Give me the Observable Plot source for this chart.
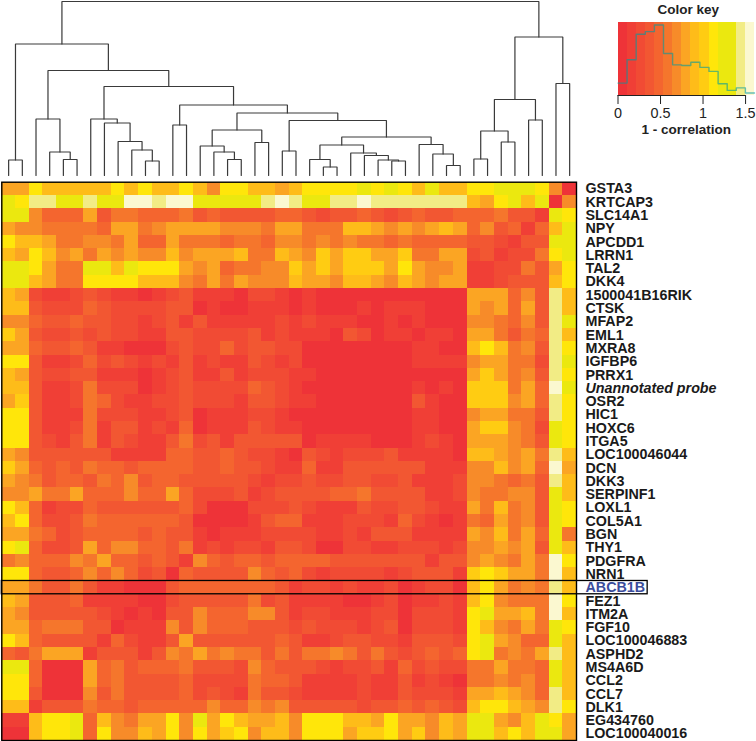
<!DOCTYPE html>
<html>
<head>
<meta charset="utf-8">
<script src="https://cdn.jsdelivr.net/npm/d3@7"></script>
<script src="https://cdn.jsdelivr.net/npm/@observablehq/plot@0.6"></script>
<style>
html,body{margin:0;padding:0;background:#fff;overflow:hidden}
#chart{position:relative;width:756px;height:741px;font-family:"Liberation Sans",Arial,sans-serif}
#chart svg{position:absolute;background:transparent;max-width:none}
</style>
</head>
<body>
<div id="chart"></div>
<script>
const genes = ["GSTA3","KRTCAP3","SLC14A1","NPY","APCDD1","LRRN1","TAL2","DKK4","1500041B16RIK","CTSK","MFAP2","EML1","MXRA8","IGFBP6","PRRX1","Unannotated probe","OSR2","HIC1","HOXC6","ITGA5","LOC100046044","DCN","DKK3","SERPINF1","LOXL1","COL5A1","BGN","THY1","PDGFRA","NRN1","ABCB1B","FEZ1","ITM2A","FGF10","LOC100046883","ASPHD2","MS4A6D","CCL2","CCL7","DLK1","EG434760","LOC100040016"];

// Colour-key band index of every cell (row by row, top to bottom)
const levelRows = [
[7,7,10,8,8,8,8,8,10,8,10,8,8,10,8,6,10,10,8,8,7,8,10,10,10,10,11,10,11,10,8,11,8,8,10,10,11,11,11,10,6,0],
[11,10,13,13,11,11,13,11,11,14,14,13,14,14,11,11,11,11,11,13,14,13,11,11,13,13,14,13,13,13,13,13,13,13,8,7,10,11,8,11,0,6],
[11,11,6,4,4,4,7,3,5,5,4,4,4,5,3,4,3,3,3,3,4,4,3,2,3,3,4,3,2,3,4,3,3,4,4,4,5,3,3,1,11,10],
[7,6,6,5,5,5,5,4,7,7,5,6,7,7,7,7,6,6,6,5,7,7,5,5,5,8,8,7,6,7,6,7,8,7,4,6,3,4,1,4,8,11],
[10,8,8,7,5,5,6,6,5,7,4,4,7,5,5,5,4,5,5,4,6,6,5,6,5,6,5,5,4,5,4,4,4,4,3,3,2,1,3,3,11,11],
[8,7,10,8,6,7,5,7,6,7,6,6,8,6,7,7,7,8,5,5,8,7,6,9,7,9,9,7,7,9,5,5,7,7,2,3,1,2,2,5,10,11],
[11,11,10,7,5,5,11,11,8,11,10,10,10,7,6,7,4,5,5,6,6,9,7,9,7,9,9,9,7,10,7,6,6,7,1,1,2,2,5,3,7,10],
[11,11,8,7,5,5,10,10,10,10,8,8,8,6,5,7,5,7,6,6,6,8,7,7,6,8,8,7,6,8,7,6,7,7,1,1,2,3,3,3,8,10],
[8,7,2,1,1,2,3,2,1,1,0,1,2,3,1,1,1,0,2,2,1,0,1,0,0,0,0,0,0,0,0,0,0,0,7,7,7,4,6,3,13,8],
[8,8,3,2,2,2,4,3,2,2,2,2,3,3,0,1,0,0,1,1,1,0,1,0,0,0,1,0,1,1,1,0,0,0,7,6,7,4,7,3,13,8],
[6,6,4,3,3,4,3,3,2,2,1,2,3,1,3,1,1,1,1,1,2,1,2,1,1,1,0,0,1,0,1,0,0,0,6,6,5,4,6,3,13,11],
[9,7,3,2,2,3,2,3,2,2,1,1,3,3,2,2,2,2,3,1,2,1,1,1,0,3,2,0,1,1,0,1,1,0,7,7,5,3,5,4,13,8],
[7,7,4,3,3,4,3,1,1,0,0,0,2,3,2,2,4,2,3,3,2,2,0,0,0,0,0,0,0,0,1,1,0,0,8,10,8,5,6,3,13,10],
[10,10,3,1,1,2,4,2,3,2,1,2,1,3,1,2,1,1,3,2,1,2,0,0,0,0,0,0,0,0,1,1,1,1,6,7,7,5,5,2,13,11],
[8,7,3,2,2,3,3,1,1,1,0,1,2,3,1,1,3,1,2,2,2,1,1,0,0,0,0,0,0,0,0,0,0,0,7,9,7,5,6,3,13,10],
[8,8,3,1,1,2,5,2,2,2,0,1,2,3,2,2,2,2,4,3,2,1,0,0,0,0,0,0,0,0,1,0,1,0,9,9,9,5,7,4,14,11],
[7,9,3,1,1,2,5,4,2,1,1,2,2,3,2,2,2,1,3,3,2,1,1,0,0,0,0,0,0,0,3,1,0,0,9,9,9,6,7,4,13,10],
[10,10,3,1,1,1,5,2,2,2,1,1,2,3,0,1,1,1,2,2,1,0,0,0,0,0,0,0,0,0,1,1,0,0,6,7,7,5,5,3,13,10],
[10,10,3,1,1,2,5,1,3,3,1,2,1,4,0,1,1,1,3,2,1,1,0,0,0,0,0,0,0,0,1,1,0,0,7,9,9,6,5,2,11,10],
[10,10,3,2,1,3,5,1,3,2,1,1,3,5,2,3,1,3,3,3,3,3,0,1,1,1,1,0,0,0,1,2,1,0,7,7,7,6,5,3,11,10],
[7,6,3,3,3,3,3,3,1,1,1,1,4,4,3,3,4,3,2,2,1,0,3,2,1,2,2,2,3,1,1,1,1,0,8,8,7,6,7,5,13,8],
[9,7,4,3,4,3,5,4,4,3,4,4,4,4,3,3,4,3,3,2,1,1,4,1,1,3,3,3,3,3,3,1,1,1,6,6,8,6,7,4,14,7],
[7,6,5,3,4,4,3,5,4,6,3,4,4,3,3,3,3,3,2,1,2,2,3,2,2,3,3,2,2,3,1,1,1,2,6,6,5,4,5,3,13,8],
[6,6,7,5,5,7,4,4,4,6,4,4,7,4,2,2,2,3,1,2,3,3,3,3,4,4,5,3,3,3,3,1,1,2,6,5,5,6,6,3,11,8],
[10,8,4,1,2,2,4,3,3,3,3,3,3,4,2,0,0,0,2,2,2,3,2,1,1,1,3,2,2,3,3,2,1,1,7,5,8,5,6,3,11,10],
[8,10,4,2,2,3,5,4,4,4,4,4,4,3,0,0,0,0,1,3,4,4,1,1,1,2,2,2,1,4,2,1,0,1,5,4,7,5,6,3,11,10],
[7,7,5,4,2,3,4,4,4,4,3,4,3,3,1,0,1,1,1,2,2,2,2,1,1,2,1,3,3,3,1,1,1,1,7,6,8,5,7,4,11,5],
[10,11,4,2,2,3,7,4,6,6,4,4,3,5,1,2,1,2,2,1,3,3,2,0,0,2,2,1,1,2,2,2,1,2,6,6,7,6,7,3,11,8],
[5,6,4,4,4,6,5,7,4,4,3,4,3,1,6,4,3,4,4,3,4,4,4,4,3,3,3,3,3,3,3,1,3,3,6,7,6,5,7,5,14,10],
[10,10,4,3,3,4,6,4,6,4,2,3,0,4,3,3,3,3,6,4,3,4,2,1,2,2,2,2,1,2,3,3,3,1,9,10,9,7,7,5,14,8],
[7,7,5,3,3,5,3,1,1,0,0,0,3,4,4,4,4,4,4,4,3,1,2,2,1,2,1,1,2,0,1,2,2,0,8,10,7,5,6,5,13,8],
[8,7,3,3,3,4,1,1,1,1,0,0,2,3,3,3,3,3,5,2,3,1,1,1,1,0,0,1,2,0,1,1,2,1,8,10,6,5,5,5,14,10],
[7,6,3,3,3,3,3,2,1,0,1,0,3,3,6,4,4,4,6,6,3,1,2,2,1,1,1,2,2,0,2,2,2,1,10,11,7,7,8,5,14,8],
[7,7,4,5,5,5,3,3,0,1,1,1,6,3,6,4,4,4,3,3,3,2,3,2,2,2,1,2,3,0,2,2,2,1,10,8,6,5,7,5,11,10],
[10,8,4,3,3,3,3,1,4,2,1,1,3,7,3,3,3,3,3,3,4,3,1,1,2,3,3,2,2,1,3,3,3,2,10,11,7,6,4,4,11,8],
[4,3,5,7,7,7,1,3,3,3,1,3,6,5,7,5,6,5,5,3,5,3,5,5,6,5,3,5,3,2,3,4,3,4,10,11,5,6,5,7,13,8],
[11,11,4,0,0,0,7,4,5,3,4,4,4,5,3,3,3,2,6,4,3,3,3,2,1,2,2,3,1,4,2,3,2,2,5,5,7,5,5,4,11,8],
[10,10,4,0,0,0,7,4,5,3,3,3,3,4,2,2,2,2,5,4,4,3,1,1,1,1,2,1,1,3,1,2,1,0,5,5,6,5,6,4,11,8],
[10,10,3,0,0,0,6,3,5,3,3,3,3,4,2,3,2,1,5,3,3,2,1,1,1,1,2,1,1,3,2,2,2,1,7,7,8,7,6,4,13,8],
[8,8,1,3,3,3,5,4,4,3,4,4,4,4,4,6,4,4,6,5,6,3,3,3,3,3,2,3,3,4,3,4,3,2,8,10,10,8,7,6,13,10],
[1,1,8,10,10,11,4,8,6,5,7,7,10,6,11,7,10,8,7,7,8,6,10,10,10,8,8,7,10,7,7,6,8,7,11,11,7,6,8,11,10,7],
[0,0,8,10,10,11,4,10,6,6,8,7,10,6,10,7,9,10,6,8,8,6,10,10,10,7,9,9,10,7,9,6,8,7,11,11,8,10,8,11,11,7]
];

// Colour key: band colours and band width in "1 - correlation" units
const bandColors = ["#ee3338","#f03f36","#f14b34","#f25732","#f4652f","#f5762c","#f78b29","#fba523","#febc19","#ffcc12","#ffe60a","#ebe80f","#ebe80f","#f2ec85","#fbf8d0"];
const bandWidth = 0.107;
const histogramCounts = [34,98,168,175,193,115,84,82,91,77,66,32,14,21,7];
const keyTicks = [0,0.5,1,1.5];

// Column dendrogram: [left, right, height]; a number below 42 is a leaf, "mN" an earlier merge
const merges = [
[0,1,.31],[4,5,.32],[3,"m2",.47],[2,"m3",1.13],[10,11,.29],[9,"m5",.51],[8,"m6",.68],[7,"m7",1.05],[6,"m8",1.13],
[12,13,1.01],[16,17,.32],[15,"m11",.47],[14,"m12",.59],[18,19,.66],["m13","m14",.91],[20,21,.49],[23,24,.17],[22,"m17",.32],
[28,29,.29],[27,"m19",.31],[26,"m20",.40],[25,"m21",.45],["m18","m22",.61],[32,33,.20],[31,"m24",.43],[30,"m25",.62],
["m23","m26",.77],["m16","m27",1.10],["m15","m28",1.25],["m10","m29",1.41],["m9","m30",1.78],["m4","m31",2.10],["m1","m32",2.63],
[34,35,.33],[36,37,.67],["m34","m35",.89],[38,39,1.11],["m36","m37",1.52],[40,41,1.84],["m38","m39",2.77],["m33","m40",3.48]
];

const FONT = '"Liberation Sans",Arial,sans-serif';
const chart = document.getElementById("chart");
function place(svg, left, top) { svg.style.left = left + "px"; svg.style.top = top + "px"; chart.appendChild(svg); }

const levelColor = {type:"ordinal", domain:bandColors.map((_, i) => i), range:bandColors};
const gridLeft = 1.3, gridRight = 180;

// Dendrogram
const nodes = new Map();
const branchPoints = [];
merges.forEach(([a, b, h], i) => {
  const pos = k => typeof k === "number" ? {x:k + 0.5, h:0} : nodes.get(k);
  const A = pos(a), B = pos(b), id = "m" + (i + 1);
  nodes.set(id, {x:(A.x + B.x) / 2, h});
  branchPoints.push({id, x:A.x, y:A.h}, {id, x:A.x, y:h}, {id, x:B.x, y:h}, {id, x:B.x, y:B.h});
});
place(Plot.plot({
  width:756, height:176, marginLeft:gridLeft, marginRight:gridRight, marginTop:1, marginBottom:1,
  x:{domain:[0,42], axis:null}, y:{domain:[0,3.48], axis:null},
  marks:[Plot.line(branchPoints,{x:"x", y:"y", z:"id", stroke:"#3a3a3a", strokeWidth:1.2, strokeLinejoin:"miter", curve:"linear"})]
}), 0, 0);

// Heatmap
const cells = levelRows.flatMap((row, r) => row.map((level, c) => ({gene:genes[r], c, level})));
const plainGenes = genes.filter(g => g !== "ABCB1B" && g !== "Unannotated probe");
const labelStyle = {anchor:"right", label:null, tickSize:0, tickPadding:9, fontSize:14.3, fontWeight:"bold", fontFamily:FONT};
place(Plot.plot({
  width:756, height:561, marginLeft:gridLeft, marginRight:gridRight, marginTop:1.7, marginBottom:1,
  style:{overflow:"visible", fontFamily:FONT},
  x:{domain:[0,42], axis:null},
  y:{type:"band", domain:genes, padding:0, round:false},
  color:levelColor,
  marks:[
    Plot.barX(cells,{x1:"c", x2:d => d.c + 1, y:"gene", fill:"level", shapeRendering:"crispEdges"}),
    Plot.frame({stroke:"#000", strokeWidth:1.4}),
    Plot.barX(["ABCB1B"],{x1:0, x2:47.2, y:d => d, fill:"none", stroke:"#000", strokeWidth:1.3, clip:false}),
    Plot.axisY(plainGenes,{...labelStyle, fill:"#1a1a1a"}),
    Plot.axisY(["Unannotated probe"],{...labelStyle, fill:"#1a1a1a", fontStyle:"italic"}),
    Plot.axisY(["ABCB1B"],{...labelStyle, fill:"#3b4c9b"})
  ]
}), 0, 180);

// Colour key
const keyBands = bandColors.map((_, i) => ({i, x1:i * bandWidth, x2:(i + 1) * bandWidth}));
const histLine = histogramCounts.concat(histogramCounts[histogramCounts.length - 1]).map((n, i) => ({x:i * bandWidth, n}));
place(Plot.plot({
  width:150, height:140, marginLeft:11.5, marginRight:2, marginTop:22, marginBottom:45,
  style:{overflow:"visible", fontFamily:FONT, color:"#222"},
  x:{domain:[0, 15 * bandWidth], label:null},
  y:{domain:[0,200], axis:null},
  color:levelColor,
  marks:[
    Plot.rectY(keyBands,{x1:"x1", x2:"x2", y1:0, y2:200, fill:"i", shapeRendering:"crispEdges"}),
    Plot.line(histLine,{x:"x", y:"n", curve:"step-after", stroke:"#009aa0", strokeOpacity:0.6, strokeWidth:1.4}),
    Plot.ruleY([0],{x1:0, x2:1.5, stroke:"#222"}),
    Plot.axisX({ticks:keyTicks, tickSize:9, tickPadding:3, tickFormat:d => String(d), fontSize:14.4, label:null, fontFamily:FONT}),
    Plot.text(["1 - correlation"],{frameAnchor:"bottom", dy:38, text:d => d, fontWeight:"bold", fontSize:13.5, fontFamily:FONT}),
    Plot.text(["Color key"],{frameAnchor:"top", dy:-18, dx:2, text:d => d, fontWeight:"bold", fontSize:13.5, fontFamily:FONT})
  ]
}), 606, 0);
</script>
</body>
</html>
